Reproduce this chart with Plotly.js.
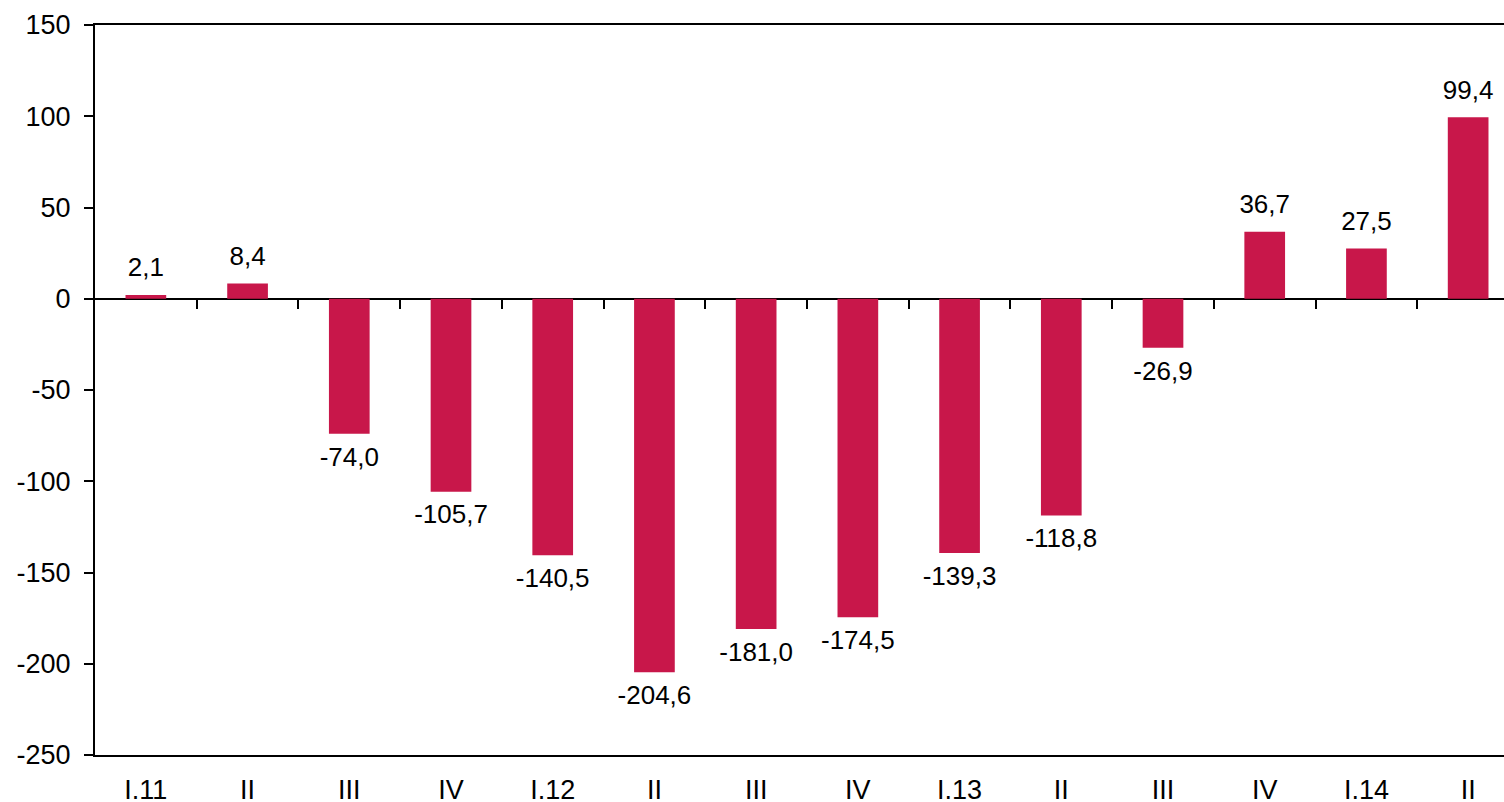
<!DOCTYPE html>
<html>
<head>
<meta charset="utf-8">
<script src="https://cdn.plot.ly/plotly-3.0.1.min.js"></script>
<style>
  body { margin: 0; overflow: hidden; background: #fff; }
  #C1 { width: 1520px; height: 802px; }
</style>
</head>
<body>
<div id="C1"></div>
<script>
// quarter labels and values
const quarters = ["I.11", "II", "III", "IV", "I.12", "II", "III", "IV", "I.13", "II", "III", "IV", "I.14", "II"];
const values = [2.1, 8.4, -74.0, -105.7, -140.5, -204.6, -181.0, -174.5, -139.3, -118.8, -26.9, 36.7, 27.5, 99.4];
const yTicks = [-250, -200, -150, -100, -50, 0, 50, 100, 150];

const idx = quarters.map((q, i) => i);
const boundaries = quarters.slice(1).map((q, i) => i + 0.5);
const labels = values.map((v) => v.toFixed(1).replace(".", ","));
const labelPos = values.map((v) => (v >= 0 ? "top center" : "bottom center"));

const data1 = [
  {
    x: idx,
    y: values,
    type: "bar",
    width: 0.4,
    marker: { color: "#C8174A" },
    hoverinfo: "none",
  },
  // value labels, also puts something on the zero-line tick axis
  {
    x: idx,
    y: values,
    type: "scatter",
    mode: "markers+text",
    xaxis: "x2",
    marker: { size: 18, opacity: 0 },
    text: labels,
    textposition: labelPos,
    textfont: { family: "Liberation Sans, Arial", size: 26, color: "#000" },
    cliponaxis: false,
    hoverinfo: "none",
  },
];

const layout1 = {
  width: 1520,
  height: 802,
  margin: { l: 95, r: 1, t: 25, b: 47 },
  paper_bgcolor: "#fff",
  plot_bgcolor: "#fff",
  showlegend: false,
  font: { family: "Liberation Sans, Arial", size: 27, color: "#000" },
  xaxis: {
    range: [-0.5, 13.5],
    tickmode: "array",
    tickvals: idx,
    ticktext: quarters,
    ticks: "",
    showgrid: false,
    zeroline: false,
    showline: true,
    mirror: true,
    linecolor: "#000",
    linewidth: 2,
    ticklabelstandoff: 10,
    automargin: false,
  },
  // second axis only draws the small ticks on the zero line
  xaxis2: {
    overlaying: "x",
    anchor: "free",
    position: 250 / 400,
    range: [-0.5, 13.5],
    tickmode: "array",
    tickvals: boundaries,
    ticks: "outside",
    ticklen: 9,
    tickwidth: 2,
    tickcolor: "#000",
    showticklabels: false,
    showgrid: false,
    zeroline: false,
    showline: false,
  },
  yaxis: {
    range: [-250, 150],
    tickmode: "array",
    tickvals: yTicks,
    ticktext: yTicks.map((v) => String(v)),
    ticks: "outside",
    ticklen: 9,
    tickwidth: 2,
    tickcolor: "#000",
    showgrid: false,
    zeroline: true,
    zerolinecolor: "#000",
    zerolinewidth: 2,
    showline: true,
    linecolor: "#000",
    linewidth: 2,
    ticklabelstandoff: 8,
    automargin: false,
  },
};

Plotly.newPlot("C1", data1, layout1, { displayModeBar: false, staticPlot: true });
</script>
</body>
</html>
